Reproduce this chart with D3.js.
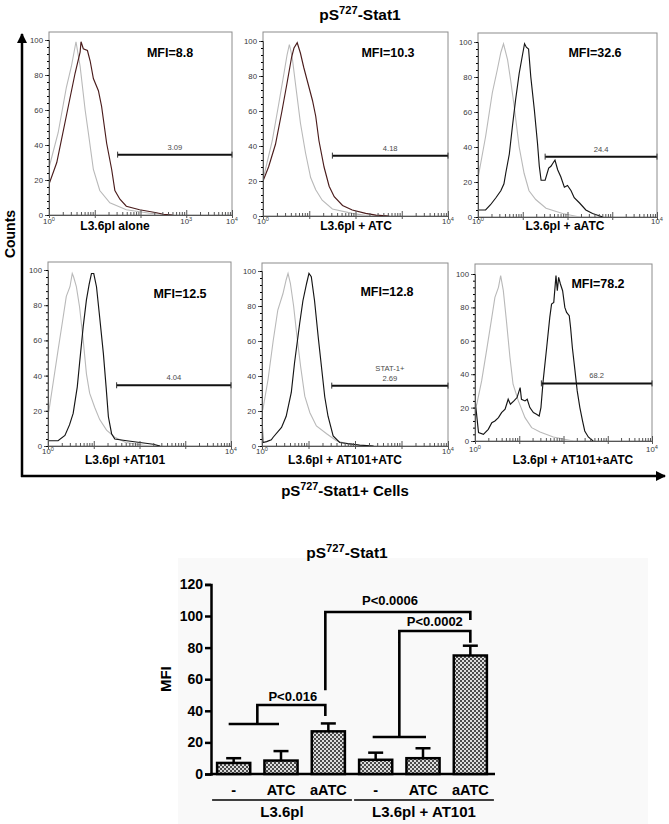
<!DOCTYPE html>
<html><head><meta charset="utf-8">
<script src="https://cdn.jsdelivr.net/npm/d3@7"></script>
<style>body{margin:0;background:#fff}svg{display:block;font-family:Arial,"Liberation Sans",sans-serif}</style>
</head><body><svg id="c" width="669" height="824"></svg>
<script>
// ---------- DATA: flow histograms ([log10 intensity, % of max counts]) ----------
const p1Control = [[0,27],[0.2,47],[0.38,73],[0.49,85],[0.59,99],[0.68,85],[0.79,60],[0.86,47],[0.97,26],[1.11,14],[1.33,7],[1.69,3],[2.2,1],[2.6,0]];
const p1Sample  = [[0,70],[0.005,18],[0.17,30],[0.39,58],[0.57,81],[0.68,93],[0.70,99],[0.75,95],[0.84,94],[0.90,88],[0.97,78],[1.08,71],[1.15,62],[1.26,41],[1.37,26],[1.44,14],[1.55,9],[1.69,5],[1.98,3],[2.35,1.3],[2.5,0.4],[2.7,0]];
const p2Control = [[0,22],[0.03,24],[0.2,43],[0.34,64],[0.45,81],[0.52,92],[0.57,98],[0.63,91],[0.70,76],[0.81,53],[0.92,36],[1.03,22],[1.14,15],[1.28,9],[1.5,4],[1.93,1.5],[2.3,0]];
const p2Sample  = [[0,20],[0.12,28],[0.27,41],[0.41,60],[0.52,76],[0.62,91],[0.67,96],[0.74,99],[0.81,93],[0.88,85],[0.96,77],[1.07,66],[1.14,57],[1.21,43],[1.32,28],[1.43,17],[1.54,11],[1.72,6],[1.93,3.4],[2.22,1.5],[2.44,0.5],[2.73,0]];
const p3Control = [[0,22],[0.02,25],[0.17,46],[0.32,71],[0.43,84],[0.51,94],[0.57,99],[0.66,90],[0.73,78],[0.81,63],[0.92,40],[1.03,25],[1.14,15],[1.29,10],[1.52,5],[1.89,2],[2.27,0]];
const p3Sample  = [[0,10],[0.01,4],[0.17,4],[0.28,7],[0.40,11],[0.51,15],[0.58,19],[0.62,25],[0.70,36],[0.77,52],[0.84,67],[0.92,82],[0.99,92],[1.04,99],[1.08,97],[1.13,96],[1.18,80],[1.26,61],[1.33,42],[1.37,29],[1.41,21],[1.50,21],[1.58,28],[1.63,29],[1.68,31],[1.72,32.5],[1.78,27],[1.85,23],[1.93,17],[2.0,18],[2.08,15],[2.15,11],[2.27,8],[2.41,4],[2.56,2],[2.79,0]];
const p4Control = [[0,18],[0.02,20],[0.11,35.5],[0.22,54.5],[0.33,73],[0.40,85],[0.48,90.5],[0.53,98],[0.56,96],[0.62,90.5],[0.69,79],[0.77,60],[0.84,41],[0.91,30],[1.02,22],[1.13,15],[1.28,9],[1.46,5],[1.7,2],[2.2,0]];
const p4Sample  = [[0,3],[0.04,3],[0.22,3],[0.37,6],[0.47,12],[0.55,18.5],[0.64,33.6],[0.69,47],[0.77,68],[0.84,83],[0.90,92],[0.95,98],[1.00,98],[1.06,90.5],[1.13,73],[1.21,52.6],[1.27,33.6],[1.32,16.6],[1.39,7],[1.46,4],[1.72,3],[2.01,2],[2.30,1],[2.45,0]];
const p5Control = [[0,20],[0.02,21],[0.13,38],[0.24,60],[0.34,77.7],[0.45,87],[0.52,95],[0.56,98.6],[0.61,93],[0.68,80],[0.75,63],[0.83,45.6],[0.92,28.5],[1.03,19],[1.17,11.5],[1.39,7],[1.6,3],[2.0,0]];
const p5Sample  = [[0,18],[0.02,2],[0.1,2.5],[0.2,3.5],[0.24,5],[0.42,10.6],[0.52,17],[0.63,30.6],[0.70,47.6],[0.81,70],[0.88,83],[0.96,93],[1.01,98.6],[1.06,96.7],[1.13,83],[1.21,62],[1.28,45],[1.35,28],[1.42,17],[1.53,5.8],[1.67,2],[2.1,0.5],[2.4,0]];
const p6Control = [[0,20],[0.04,22],[0.15,36],[0.26,54],[0.38,74],[0.45,86],[0.53,92],[0.58,99],[0.64,90],[0.71,72],[0.79,50],[0.86,34],[0.98,24],[1.13,14],[1.28,8],[1.47,5.4],[1.77,2.4],[2.22,0]];
const p6Sample  = [[0,26],[0.02,20],[0.08,5],[0.19,4],[0.30,7],[0.38,11],[0.45,12],[0.53,14],[0.60,17],[0.68,19],[0.75,25],[0.80,22],[0.88,24],[0.95,26],[1.02,32],[1.05,25],[1.13,24],[1.18,25],[1.24,20],[1.32,17],[1.39,16],[1.45,15],[1.49,20],[1.54,36],[1.62,56],[1.69,74],[1.73,82],[1.78,83],[1.83,99],[1.86,90],[1.89,98],[1.93,94],[1.98,90],[2.03,80],[2.07,77],[2.13,75],[2.16,68],[2.20,56],[2.26,42],[2.31,30],[2.37,20],[2.43,12],[2.48,6],[2.56,2.4],[2.67,0]];

const panelNames  = ["L3.6pl alone","L3.6pl + ATC","L3.6pl + aATC","L3.6pl +AT101","L3.6pl + AT101+ATC","L3.6pl + AT101+aATC"];
const panelMFI    = ["MFI=8.8","MFI=10.3","MFI=32.6","MFI=12.5","MFI=12.8","MFI=78.2"];
const gateValues  = ["3.09","4.18","24.4","4.04","2.69","68.2"];
const gateNames   = ["","","","","STAT-1+",""];
const gateStartLog = 1.5;      // gate begins at 10^1.5
const gateLevel   = 34.5;      // gate drawn at this count level
const xTickLabels = [[1,1000,10000],[1,1e4],[1,1e4],[1,1e4],[1,1e4],[1,1e4]];
const countTicks  = [0,20,40,60,80,100];

// ---------- DATA: bar chart ----------
const barLabels = ["-","ATC","aATC","-","ATC","aATC"];
const barMeans  = [7, 8.5, 27, 9, 10, 75];
const barSEM    = [3, 6, 5, 4.5, 6.3, 6.2];
const groupLabels = ["L3.6pl","L3.6pl + AT101"];
const mfiTicks  = [0,20,40,60,80,100,120];
const sigLabels = ["P<0.016","P<0.0006","P<0.0002"];

// ---------- LAYOUT ----------
const svg = d3.select("#c");
const boxes = [
  {l:49, r:232, t:32, z:215, y100:40, lab:230, tk:224, mfiX:170, mfiY:52},
  {l:263,r:448, t:32, z:216, y100:41, lab:230, tk:224, mfiX:388, mfiY:52},
  {l:478,r:657, t:33, z:217, y100:42, lab:230, tk:224, mfiX:595, mfiY:52},
  {l:48, r:231, t:262,z:446, y100:270,lab:464, tk:454, mfiX:180, mfiY:293},
  {l:262,r:448, t:263,z:446, y100:271,lab:464, tk:454, mfiX:387, mfiY:291},
  {l:475,r:652, t:264,z:441, y100:274,lab:464, tk:452, mfiX:598, mfiY:283}
];
const labCenters = [115,356,565,125,345,573];
const controls = [p1Control,p2Control,p3Control,p4Control,p5Control,p6Control];
const samples  = [p1Sample,p2Sample,p3Sample,p4Sample,p5Sample,p6Sample];
const sampleColors = ["#4a1c1c","#4a1c1c","#151515","#151515","#151515","#151515"];

const defs = svg.append("defs");

function supText(sel, base, sup, rest, size) {
  sel.append("tspan").text(base);
  sel.append("tspan").attr("dy", -size*0.38).attr("font-size", size*0.72).text(sup);
  sel.append("tspan").attr("dy", size*0.38).text(rest);
}

// top title
supText(svg.append("text").attr("x",360).attr("y",20).attr("text-anchor","middle")
  .attr("font-weight","bold").attr("font-size",15.5), "pS","727","-Stat1",15.5);

boxes.forEach((b,i) => {
  const g = svg.append("g");
  const x = d3.scaleLog().domain([1,1e4]).range([b.l,b.r]);
  const y = d3.scaleLinear().domain([0,100]).range([b.z,b.y100]);
  defs.append("clipPath").attr("id","cp"+i).append("rect")
    .attr("x",b.l).attr("y",b.t).attr("width",b.r-b.l).attr("height",b.z-b.t);
  g.append("rect").attr("x",b.l).attr("y",b.t).attr("width",b.r-b.l).attr("height",b.z-b.t)
    .attr("fill","none").attr("stroke","#8c8c8c").attr("stroke-width",1);
  const line = d3.line().x(d=>x(Math.pow(10,d[0]))).y(d=>y(d[1]));
  const cg = g.append("g").attr("clip-path","url(#cp"+i+")");
  cg.append("path").attr("d",line(controls[i])).attr("fill","none").attr("stroke","#b9b9b9").attr("stroke-width",1.1);
  cg.append("path").attr("d",line(samples[i])).attr("fill","none").attr("stroke",sampleColors[i]).attr("stroke-width",1.15);

  // y axis
  const ya = g.append("g").attr("transform",`translate(${b.l},0)`)
    .call(d3.axisLeft(y).tickValues(countTicks).tickSize(4).tickPadding(2));
  g.append("g").attr("transform",`translate(${b.l},0)`)
    .call(d3.axisLeft(y).tickValues(d3.range(0,101,4)).tickSize(2).tickFormat(""))
    .call(s=>s.select(".domain").remove());
  ya.selectAll("text").attr("font-size",7.8).attr("fill","#3a3a3a").attr("font-family","Arial");
  ya.select(".domain").attr("stroke","#555");
  ya.selectAll("line").attr("stroke","#555");

  // x axis
  const minor = [];
  for (let e=0;e<4;e++) for (let k=2;k<10;k++) minor.push(k*Math.pow(10,e));
  g.append("g").attr("transform",`translate(0,${b.z})`)
    .call(d3.axisBottom(x).tickValues(minor).tickSize(-3).tickFormat(""))
    .call(s=>{s.select(".domain").attr("stroke","#555");s.selectAll("line").attr("stroke","#555");});
  g.append("g").attr("transform",`translate(0,${b.z})`)
    .call(d3.axisBottom(x).tickValues([1,10,100,1000,10000]).tickSize(3).tickFormat(""))
    .call(s=>{s.select(".domain").remove();s.selectAll("line").attr("stroke","#555");});
  g.append("g").attr("transform",`translate(0,${b.z})`)
    .call(d3.axisBottom(x).tickValues([1,10,100,1000,10000]).tickSize(-5).tickFormat(""))
    .call(s=>{s.select(".domain").remove();s.selectAll("line").attr("stroke","#555");});
  xTickLabels[i].forEach(v => {
    const t = g.append("text").attr("x",x(v)).attr("y",b.tk).attr("text-anchor","middle")
      .attr("font-size",7.8).attr("fill","#3a3a3a");
    supText(t,"10",String(Math.round(Math.log10(v))),"",7.8);
  });

  // gate
  const gx0 = x(Math.pow(10,gateStartLog)), gx1 = x(1e4), gy = y(gateLevel);
  g.append("line").attr("x1",gx0).attr("x2",gx1).attr("y1",gy).attr("y2",gy).attr("stroke","#111").attr("stroke-width",2);
  [gx0,gx1].forEach(xx=>g.append("line").attr("x1",xx).attr("x2",xx).attr("y1",gy-3).attr("y2",gy+3).attr("stroke","#333").attr("stroke-width",1));
  g.append("text").attr("x",(gx0+gx1)/2).attr("y",gy-5).attr("text-anchor","middle")
    .attr("font-size",7.6).attr("fill","#4a4a4a").text(gateValues[i]);
  if (gateNames[i]) g.append("text").attr("x",(gx0+gx1)/2).attr("y",gy-15).attr("text-anchor","middle")
    .attr("font-size",7.6).attr("fill","#4a4a4a").text(gateNames[i]);

  // MFI
  g.append("text").attr("x",b.mfiX).attr("y",b.mfiY+4.5).attr("text-anchor","middle")
    .attr("font-weight","bold").attr("font-size",12.5).attr("fill","#000").text(panelMFI[i]);
  // panel label
  g.append("text").attr("x",labCenters[i]).attr("y",b.lab).attr("text-anchor","middle")
    .attr("font-weight","bold").attr("font-size",12).attr("fill","#000").text(panelNames[i]);
});

// big axes with arrows
defs.append("marker").attr("id","arr").attr("viewBox","0 0 10 10").attr("refX",9).attr("refY",5)
  .attr("markerWidth",4).attr("markerHeight",4).attr("orient","auto")
  .append("path").attr("d","M0,0L10,5L0,10z").attr("fill","#000");
svg.append("line").attr("x1",22).attr("y1",477).attr("x2",22).attr("y2",34)
  .attr("stroke","#000").attr("stroke-width",2.5).attr("marker-end","url(#arr)");
svg.append("line").attr("x1",21).attr("y1",476).attr("x2",665).attr("y2",476)
  .attr("stroke","#000").attr("stroke-width",2.5).attr("marker-end","url(#arr)");
svg.append("text").attr("transform","translate(15,234) rotate(-90)").attr("text-anchor","middle")
  .attr("font-weight","bold").attr("font-size",14).text("Counts");
supText(svg.append("text").attr("x",345).attr("y",496).attr("text-anchor","middle")
  .attr("font-weight","bold").attr("font-size",15), "pS","727","-Stat1+ Cells",15);

// ---------- BAR CHART ----------
svg.append("rect").attr("x",178).attr("y",558).attr("width",470).attr("height",266).attr("fill","#f9f9f9");
supText(svg.append("text").attr("x",347).attr("y",558).attr("text-anchor","middle")
  .attr("font-weight","bold").attr("font-size",15.5), "pS","727","-Stat1",15.5);

const pat = defs.append("pattern").attr("id","chk").attr("width",4).attr("height",4).attr("patternUnits","userSpaceOnUse");
pat.append("rect").attr("width",4).attr("height",4).attr("fill","#dcdcdc");
pat.append("rect").attr("width",2).attr("height",2).attr("fill","#4a4a4a");
pat.append("rect").attr("x",2).attr("y",2).attr("width",2).attr("height",2).attr("fill","#4a4a4a");

const bx = d3.scaleBand().domain(d3.range(barMeans.length)).range([210,494]).paddingInner(0.3).paddingOuter(0.15);
const by = d3.scaleLinear().domain([0,120]).range([774,584.4]);
const bc = i => bx(i)+bx.bandwidth()/2;

const yax = svg.append("g").attr("transform","translate(211,0)")
  .call(d3.axisLeft(by).tickValues(mfiTicks).tickSize(6).tickPadding(2));
yax.select(".domain").attr("stroke-width",2.5);
yax.selectAll("line").attr("stroke-width",2.5);
yax.selectAll("text").attr("font-size",14).attr("font-weight","bold").attr("fill","#000").attr("font-family","Arial");
svg.append("line").attr("x1",210).attr("x2",495).attr("y1",774).attr("y2",774).attr("stroke","#000").attr("stroke-width",2.5);
svg.append("text").attr("transform",`translate(171,${by(60)}) rotate(-90)`).attr("text-anchor","middle")
  .attr("font-weight","bold").attr("font-size",15).text("MFI");

// error bars
barMeans.forEach((m,i)=>{
  const top = by(m+barSEM[i]);
  svg.append("line").attr("x1",bc(i)).attr("x2",bc(i)).attr("y1",by(m)).attr("y2",top).attr("stroke","#000").attr("stroke-width",2.5);
  svg.append("line").attr("x1",bc(i)-7.5).attr("x2",bc(i)+7.5).attr("y1",top).attr("y2",top).attr("stroke","#000").attr("stroke-width",2.5);
});
svg.selectAll("rect.bar").data(barMeans).join("rect").attr("class","bar")
  .attr("x",(d,i)=>bx(i)).attr("width",bx.bandwidth())
  .attr("y",d=>by(d)).attr("height",d=>by(0)-by(d))
  .attr("fill","url(#chk)").attr("stroke","#000").attr("stroke-width",2.5);

barLabels.forEach((t,i)=>svg.append("text").attr("x",bc(i)).attr("y",795).attr("text-anchor","middle")
  .attr("font-weight","bold").attr("font-size",14.5).text(t));
[[0,2],[3,5]].forEach((r,k)=>{
  const x0 = bx(r[0])-5, x1 = bx(r[1])+bx.bandwidth()+7;
  svg.append("line").attr("x1",x0).attr("x2",x1).attr("y1",800).attr("y2",800).attr("stroke","#000").attr("stroke-width",1.5);
  svg.append("text").attr("x",(x0+x1)/2).attr("y",817).attr("text-anchor","middle")
    .attr("font-weight","bold").attr("font-size",15).text(groupLabels[k]);
});

// significance brackets
const bw = 2.6;
function path(pts){ svg.append("path").attr("d",d3.line()(pts)).attr("fill","none").attr("stroke","#000").attr("stroke-width",bw); }
{
  const yb = by(31.6), mid = (bc(0)+bc(1))/2, top = by(43.7);
  path([[bc(0)-5,yb],[bc(1)-2,yb]]);
  path([[mid,yb],[mid,top],[bc(2)-3,top],[bc(2)-3,by(36.7)]]);
  svg.append("text").attr("x",(mid+bc(2))/2).attr("y",top-4).attr("text-anchor","middle")
    .attr("font-weight","bold").attr("font-size",13).text(sigLabels[0]);
}
{
  const top = by(102.5);
  path([[bc(2)-3,by(53)],[bc(2)-3,top],[bc(5),top],[bc(5),by(97.5)]]);
  svg.append("text").attr("x",390).attr("y",top-7).attr("text-anchor","middle")
    .attr("font-weight","bold").attr("font-size",13).text(sigLabels[1]);
}
{
  const yb = by(23.4), mid = (bc(3)+bc(4))/2, top = by(90.5);
  path([[bc(3)-3,yb],[bc(4)+3,yb]]);
  path([[mid,yb],[mid,top],[bc(5),top],[bc(5),by(83)]]);
  svg.append("text").attr("x",(mid+bc(5))/2).attr("y",top-5).attr("text-anchor","middle")
    .attr("font-weight","bold").attr("font-size",13).text(sigLabels[2]);
}
</script></body></html>
